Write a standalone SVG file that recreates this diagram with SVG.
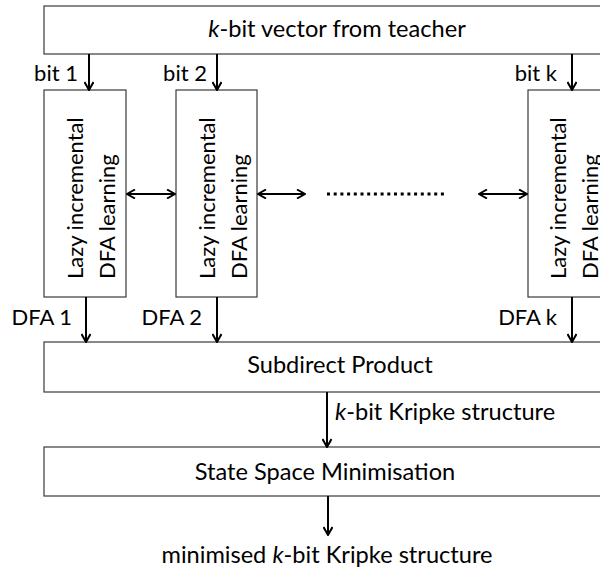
<svg xmlns="http://www.w3.org/2000/svg" width="600" height="570" viewBox="0 0 600 570">
<defs>
<marker id="ah" viewBox="0 0 10 10" refX="9" refY="5" markerWidth="10" markerHeight="10" markerUnits="userSpaceOnUse" orient="auto-start-reverse">
<path d="M1,0.5 L9,5 L1,9.5" fill="none" stroke="#000" stroke-width="2"/>
</marker>
<style>
.box{fill:#fff;stroke:#3a3a3a;stroke-width:1.2}
.t{font-family:Lato,"Open Sans","Liberation Sans",sans-serif;font-size:22px;fill:#000}
.big{font-size:23.6px}
.c{text-anchor:middle}
.e{text-anchor:end}
.a{stroke:#000;stroke-width:2;fill:none;marker-end:url(#ah)}
.d{stroke:#000;stroke-width:2;fill:none;marker-start:url(#ah);marker-end:url(#ah)}
.dots{stroke:#000;stroke-width:3;stroke-dasharray:3 3.7;fill:none}
</style>
</defs>
<rect width="600" height="570" fill="#fff"/>
<g id="teacher">
<rect class="box" x="44" y="6" width="570" height="48"/>
<text class="t big c" x="337" y="37"><tspan font-style="italic">k</tspan>-bit vector from teacher</text>
</g>
<g id="learner1">
<rect class="box" x="44" y="90" width="82" height="207"/>
<text class="t" transform="translate(83,279) rotate(-90)">Lazy incremental</text>
<text class="t" transform="translate(115,279) rotate(-90)">DFA learning</text>
</g>
<g id="learner2">
<rect class="box" x="176" y="90" width="81" height="207"/>
<text class="t" transform="translate(215,279) rotate(-90)">Lazy incremental</text>
<text class="t" transform="translate(247,279) rotate(-90)">DFA learning</text>
</g>
<g id="learnerk">
<rect class="box" x="528" y="90" width="90" height="207"/>
<text class="t" transform="translate(566,279) rotate(-90)">Lazy incremental</text>
<text class="t" transform="translate(598,279) rotate(-90)">DFA learning</text>
</g>
<g id="product">
<rect class="box" x="44" y="342" width="570" height="50"/>
<text class="t big c" x="340" y="373">Subdirect Product</text>
</g>
<g id="minimise">
<rect class="box" x="44" y="447" width="570" height="49"/>
<text class="t big c" x="325" y="480">State Space Minimisation</text>
</g>
<g id="connectors">
<line class="a" x1="89" y1="54" x2="89" y2="90"/>
<line class="a" x1="217" y1="54" x2="217" y2="90"/>
<line class="a" x1="572" y1="54" x2="572" y2="90"/>
<line class="d" x1="127" y1="194" x2="175" y2="194"/>
<line class="d" x1="258" y1="194" x2="305" y2="194"/>
<line class="dots" x1="327" y1="194" x2="444" y2="194"/>
<line class="d" x1="479" y1="194" x2="527" y2="194"/>
<line class="a" x1="86" y1="297" x2="86" y2="342"/>
<line class="a" x1="217" y1="297" x2="217" y2="342"/>
<line class="a" x1="572" y1="297" x2="572" y2="342"/>
<line class="a" x1="327" y1="392" x2="327" y2="447"/>
<line class="a" x1="328" y1="496" x2="328" y2="535"/>
<text class="t e" x="78" y="81">bit 1</text>
<text class="t e" x="207" y="81">bit 2</text>
<text class="t e" x="557" y="81">bit k</text>
<text class="t e" x="72" y="325">DFA 1</text>
<text class="t e" x="202" y="325">DFA 2</text>
<text class="t e" x="557" y="325">DFA k</text>
<text class="t big" x="335" y="420"><tspan font-style="italic">k</tspan>-bit Kripke structure</text>
<text class="t big c" x="327" y="563">minimised <tspan font-style="italic">k</tspan>-bit Kripke structure</text>
</g>
</svg>
